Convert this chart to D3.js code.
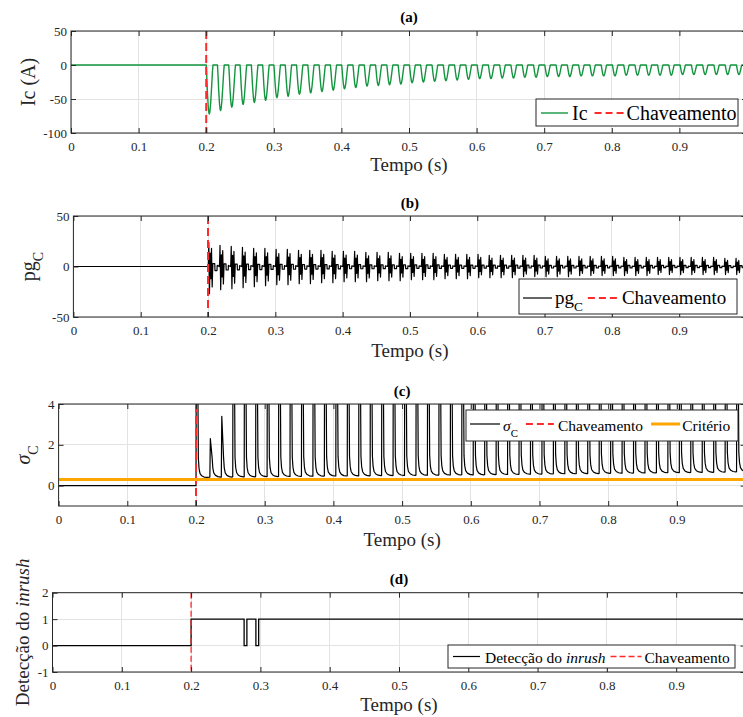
<!DOCTYPE html>
<html>
<head>
<meta charset="utf-8">
<script src="https://cdn.jsdelivr.net/npm/d3@7"></script>
<style>
  body { margin: 0; background: #fff; }
  svg text, svg tspan { font-family: "Liberation Serif", "Times New Roman", serif; }
</style>
</head>
<body>
<svg id="fig" width="743" height="717"></svg>
<script>
// ---------- shared time axis ----------
const xTicks = [0, 0.1, 0.2, 0.3, 0.4, 0.5, 0.6, 0.7, 0.8, 0.9];
const X_MAX = 1;
const T_SWITCH = 0.2;          // switching instant (s)
const PERIOD = 1 / 60;         // one mains cycle (s)
const SERIF = '"Liberation Serif", "Times New Roman", serif';

// ---------- (a) capacitor current Ic ----------
const icYTicks = [50, 0, -50, -100];
// depth of the current pulse in each cycle after switching (A)
const icDepth = [-72, -67, -62, -58, -55, -52, -48, -46, -43, -41,
                 -39, -37, -35, -33, -31, -30, -29, -28, -26, -25,
                 -24, -23, -22, -21, -20, -20, -19, -19, -18, -18,
                 -17, -17, -17, -16, -16, -16, -16, -15, -15, -15,
                 -15, -15, -14, -14, -14, -14, -14, -14];
// pulse width in each cycle, as a fraction of the period
const icWidth = [0.6, 0.6, 0.6, 0.59, 0.59, 0.58, 0.58, 0.57, 0.57, 0.56,
                 0.56, 0.55, 0.55, 0.55, 0.54, 0.54, 0.54, 0.53, 0.53, 0.53,
                 0.52, 0.52, 0.52, 0.52, 0.51, 0.51, 0.51, 0.51, 0.5, 0.5,
                 0.5, 0.5, 0.5, 0.5, 0.49, 0.49, 0.49, 0.49, 0.49, 0.49,
                 0.48, 0.48, 0.48, 0.48, 0.48, 0.48, 0.48, 0.48];
const IC_CENTER = 0.3;         // pulse centre inside the cycle (fraction)
// outline of one pulse: [position within pulse, fraction of depth]
const icPulseShape = [[0, 0], [0.08, 0.22], [0.18, 0.55], [0.3, 0.85], [0.4, 0.98],
                      [0.46, 1], [0.54, 0.96], [0.66, 0.78], [0.8, 0.45], [0.92, 0.15], [1, 0]];

// ---------- (b) pg_C ----------
const pgYTicks = [50, 0, -50];
const pgPos = [24, 21, 20, 19, 18, 18, 17, 17, 16, 16,
               16, 15, 15, 15, 14, 14, 14, 13, 13, 13,
               13, 12, 12, 12, 12, 11, 11, 11, 11, 11,
               10, 10, 10, 10, 10, 10, 10, 9, 9, 9,
               9, 9, 9, 9, 9, 9, 8, 8];
const pgNeg = [-27, -23, -22, -21, -20, -19, -18, -18, -17, -17,
               -16, -16, -15, -15, -15, -14, -14, -14, -13, -13,
               -13, -12, -12, -12, -11, -11, -11, -11, -10, -10,
               -10, -10, -10, -9, -9, -9, -9, -9, -9, -9,
               -8, -8, -8, -8, -8, -8, -8, -8];
// one cycle of pg_C: [phase, +1 = positive peak, -1 = negative peak]
const pgCycleShape = [[0, 0], [0.03, 0.15], [0.07, 1], [0.13, -1], [0.19, 0.55], [0.25, -0.45],
                      [0.31, 0.75], [0.37, -0.75], [0.43, 0.12], [0.6, 0.12], [0.62, -0.15],
                      [0.8, -0.15], [0.82, 0.05], [1, 0]];

// ---------- (c) sigma_C and threshold ----------
const sigmaYTicks = [4, 2, 0];
const sigmaPeak = [15, 2.3, 3.4, 15, 15, 15, 15, 15, 15, 15,
                   15, 15, 15, 15, 15, 15, 15, 15, 15, 15,
                   15, 15, 15, 15, 15, 15, 15, 15, 15, 15,
                   15, 15, 15, 15, 15, 15, 15, 15, 15, 15,
                   15, 15, 15, 15, 15, 15, 15, 15];
const sigmaBase = [0.40, 0.42, 0.42, 0.43, 0.43, 0.44, 0.44, 0.45, 0.45, 0.46,
                   0.46, 0.47, 0.47, 0.48, 0.48, 0.49, 0.49, 0.50, 0.50, 0.51,
                   0.51, 0.52, 0.52, 0.53, 0.53, 0.54, 0.55, 0.55, 0.56, 0.56,
                   0.57, 0.58, 0.58, 0.59, 0.59, 0.60, 0.61, 0.61, 0.62, 0.62,
                   0.63, 0.64, 0.64, 0.65, 0.65, 0.66, 0.67, 0.68];
// decay after each spike: [seconds after peak, value above the baseline]
const sigmaTail = [[0.0026, 0.95], [0.0036, 0.45], [0.005, 0.2], [0.0075, 0.08], [0.011, 0.02], [0.015, 0]];
const SIGMA_FIRST_LAG = 0.0008;
const SIGMA_LAG = 0.0042;
const criterio = 0.3;

// ---------- (d) inrush detection flag ----------
const detYTicks = [2, 1, 0, -1];
const detT = [0, 0.2, 0.2765, 0.2805, 0.2935, 0.2975, 1];
const detV = [0, 1, 0, 1, 0, 1, 1];

// ---------- series assembly ----------
function buildIc() {
  const pts = [[0, 0], [T_SWITCH, 0]];
  icDepth.forEach((depth, k) => {
    const w = icWidth[k] * PERIOD;
    const start = T_SWITCH + k * PERIOD + IC_CENTER * PERIOD - w / 2;
    icPulseShape.forEach(([u, f]) => pts.push([start + u * w, f * depth]));
  });
  pts.push([X_MAX, 0]);
  return pts;
}
function buildPg() {
  const pts = [[0, 0], [T_SWITCH, 0]];
  pgPos.forEach((pos, k) => {
    const t0 = T_SWITCH + k * PERIOD;
    pgCycleShape.forEach(([u, f]) => pts.push([t0 + u * PERIOD, f >= 0 ? f * pos : -f * pgNeg[k]]));
  });
  pts.push([X_MAX, 0]);
  return pts;
}
function buildSigma() {
  const pts = [[0, 0], [T_SWITCH, 0]];
  sigmaPeak.forEach((peak, k) => {
    const tk = T_SWITCH + (k === 0 ? SIGMA_FIRST_LAG : SIGMA_LAG + k * PERIOD);
    if (k > 0) pts.push([tk - 0.0007, sigmaBase[k]]);
    pts.push([tk, peak]);
    sigmaTail.forEach(([dt, v]) => pts.push([tk + dt, sigmaBase[k] + v]));
  });
  pts.push([X_MAX, sigmaBase[sigmaBase.length - 1]]);
  return pts;
}

// ---------- drawing helpers ----------
const svg = d3.select('#fig');
svg.append('rect').attr('width', 743).attr('height', 717).attr('fill', '#fff');
const AXIS_COLOR = '#262626';
const RED = '#ff2a2a';

function makePanel(cfg) {
  const x = d3.scaleLinear().domain([0, X_MAX]).range([cfg.left, cfg.right]);
  const y = d3.scaleLinear().domain(cfg.yDomain).range([cfg.bottom, cfg.top]);
  const g = svg.append('g');
  svg.append('clipPath').attr('id', 'clip-' + cfg.id)
    .append('rect').attr('x', cfg.left).attr('y', cfg.top)
    .attr('width', cfg.right - cfg.left).attr('height', cfg.bottom - cfg.top);
  // grid
  const grid = g.append('g').attr('stroke', '#e3e3e3').attr('stroke-width', 1).attr('shape-rendering', 'crispEdges');
  grid.selectAll('.gx').data(xTicks).join('line')
    .attr('x1', d => x(d)).attr('x2', d => x(d)).attr('y1', cfg.top).attr('y2', cfg.bottom);
  grid.selectAll('.gy').data(cfg.yTicks).join('line')
    .attr('y1', d => y(d)).attr('y2', d => y(d)).attr('x1', cfg.left).attr('x2', cfg.right);
  const plot = g.append('g').attr('clip-path', 'url(#clip-' + cfg.id + ')');
  return { g, plot, x, y, cfg };
}

function drawFrame(p) {
  const { g, x, y, cfg } = p;
  const fmt = d => String(d);
  const styleAxis = sel => {
    sel.select('.domain').remove();
    sel.attr('font-family', SERIF).attr('font-size', 13);
    sel.selectAll('line').attr('stroke', AXIS_COLOR);
    sel.selectAll('text').attr('fill', AXIS_COLOR).style('font-family', SERIF);
  };
  g.append('g').attr('transform', `translate(0,${cfg.bottom})`)
    .call(d3.axisBottom(x).tickValues(xTicks).tickSizeInner(-5).tickSizeOuter(0).tickPadding(9).tickFormat(fmt))
    .call(styleAxis);
  g.append('g').attr('transform', `translate(0,${cfg.top})`)
    .call(d3.axisTop(x).tickValues(xTicks).tickSizeInner(-5).tickSizeOuter(0).tickFormat(''))
    .call(styleAxis);
  g.append('g').attr('transform', `translate(${cfg.left},0)`)
    .call(d3.axisLeft(y).tickValues(cfg.yTicks).tickSizeInner(-5).tickSizeOuter(0).tickPadding(4).tickFormat(fmt))
    .call(styleAxis);
  g.append('g').attr('transform', `translate(${cfg.right},0)`)
    .call(d3.axisRight(y).tickValues(cfg.yTicks).tickSizeInner(-5).tickSizeOuter(0).tickFormat(''))
    .call(styleAxis);
  g.append('rect').attr('x', cfg.left).attr('y', cfg.top)
    .attr('width', cfg.right - cfg.left).attr('height', cfg.bottom - cfg.top)
    .attr('fill', 'none').attr('stroke', AXIS_COLOR).attr('stroke-width', 1);
  // title and x label
  const cx = (cfg.left + cfg.right) / 2;
  g.append('text').attr('x', cx).attr('y', cfg.titleY).attr('text-anchor', 'middle')
    .style('font-family', SERIF)
    .attr('font-weight', 'bold').attr('font-size', 15).attr('fill', '#000').text(cfg.title);
  g.append('text').attr('x', cx).attr('y', cfg.xLabelY).attr('text-anchor', 'middle')
    .style('font-family', SERIF)
    .attr('font-size', 19).attr('fill', AXIS_COLOR).text('Tempo (s)');
  // y label (rotated), built from segments
  const yl = g.append('text')
    .attr('transform', `translate(${cfg.yLabelX},${(cfg.top + cfg.bottom) / 2}) rotate(-90)`)
    .style('font-family', SERIF)
    .attr('text-anchor', 'middle').attr('font-size', cfg.yLabelSize).attr('fill', AXIS_COLOR);
  addSegments(yl, cfg.yLabel, cfg.yLabelSize);
}

function addSegments(textSel, segments, size) {
  let shifted = 0;
  segments.forEach(seg => {
    const ts = textSel.append('tspan').text(seg.t).style('font-family', SERIF);
    if (seg.italic) ts.attr('font-style', 'italic');
    if (seg.sub) {
      ts.attr('font-size', size * 0.7).attr('dy', size * 0.38);
      shifted = size * 0.38;
    } else if (shifted) {
      ts.attr('dy', -shifted);
      shifted = 0;
    }
  });
}

function drawLegend(L) {
  const g = svg.append('g');
  g.append('rect').attr('x', L.x).attr('y', L.y).attr('width', L.w).attr('height', L.h)
    .attr('fill', '#fff').attr('stroke', AXIS_COLOR).attr('stroke-width', 1);
  let cx = L.x + L.padL;
  L.items.forEach(it => {
    g.append('line').attr('x1', cx).attr('x2', cx + it.len).attr('y1', L.lineY).attr('y2', L.lineY)
      .attr('stroke', it.color).attr('stroke-width', it.width)
      .attr('stroke-dasharray', it.dash || null);
    const t = g.append('text').attr('x', cx + it.len + it.g1).attr('y', L.textY)
      .style('font-family', SERIF)
      .attr('font-size', L.fs).attr('fill', '#000');
    addSegments(t, it.label, L.fs);
    cx = cx + it.len + it.g1 + t.node().getComputedTextLength() + L.gap;
  });
}

function switchLine(p, width, dash) {
  p.plot.append('line')
    .attr('x1', p.x(T_SWITCH)).attr('x2', p.x(T_SWITCH))
    .attr('y1', p.cfg.top).attr('y2', p.cfg.bottom)
    .attr('stroke', RED).attr('stroke-width', width).attr('stroke-dasharray', dash);
}

const line = (p) => d3.line().x(d => p.x(d[0])).y(d => p.y(d[1]));

// ---------- (a) ----------
const pa = makePanel({ id: 'a', left: 71, right: 747, top: 31, bottom: 133, yDomain: [-100, 50], yTicks: icYTicks,
  title: '(a)', titleY: 22, xLabelY: 171, yLabelX: 35, yLabelSize: 20, yLabel: [{ t: 'Ic (A)' }] });
pa.plot.append('path').datum(buildIc()).attr('d', line(pa))
  .attr('fill', 'none').attr('stroke', '#13953f').attr('stroke-width', 1.4).attr('stroke-linejoin', 'round');
switchLine(pa, 2, '8,4');
drawFrame(pa);
drawLegend({ x: 536, y: 99, w: 202, h: 27, padL: 5, lineY: 113, textY: 120, fs: 20, gap: 7,
  items: [
    { color: '#13953f', width: 1.4, len: 27, g1: 4, label: [{ t: 'Ic' }] },
    { color: RED, width: 2, dash: '7,4', len: 29, g1: 3, label: [{ t: 'Chaveamento' }] }
  ] });

// ---------- (b) ----------
const pb = makePanel({ id: 'b', left: 73.4, right: 746.5, top: 216, bottom: 317, yDomain: [-50, 50], yTicks: pgYTicks,
  title: '(b)', titleY: 208, xLabelY: 357, yLabelX: 35, yLabelSize: 20, yLabel: [{ t: 'pg' }, { t: 'C', sub: true }] });
pb.plot.append('path').datum(buildPg()).attr('d', line(pb))
  .attr('fill', 'none').attr('stroke', '#000').attr('stroke-width', 1.2).attr('stroke-linejoin', 'round');
switchLine(pb, 2, '8,4');
drawFrame(pb);
drawLegend({ x: 519, y: 279, w: 218, h: 35, padL: 4, lineY: 298, textY: 304, fs: 19, gap: 5,
  items: [
    { color: '#000', width: 1.2, len: 29, g1: 3, label: [{ t: 'pg' }, { t: 'C', sub: true }] },
    { color: RED, width: 2, dash: '7,4', len: 31, g1: 3, label: [{ t: 'Chaveamento' }] }
  ] });

// ---------- (c) ----------
const pc = makePanel({ id: 'c', left: 58.6, right: 745.6, top: 404, bottom: 506, yDomain: [-1, 4], yTicks: sigmaYTicks,
  title: '(c)', titleY: 396, xLabelY: 546, yLabelX: 30, yLabelSize: 20,
  yLabel: [{ t: 'σ', italic: true }, { t: 'C', sub: true }] });
pc.plot.append('path').datum(buildSigma()).attr('d', line(pc))
  .attr('fill', 'none').attr('stroke', '#000').attr('stroke-width', 1.2).attr('stroke-linejoin', 'round');
switchLine(pc, 2, '8,4');
pc.plot.append('path').datum([[0, criterio], [X_MAX, criterio]]).attr('d', line(pc))
  .attr('fill', 'none').attr('stroke', '#ffa500').attr('stroke-width', 3);
drawFrame(pc);
drawLegend({ x: 466, y: 410, w: 272, h: 31, padL: 4, lineY: 424, textY: 431, fs: 15.5, gap: 8,
  items: [
    { color: '#000', width: 1.2, len: 30, g1: 3, label: [{ t: 'σ', italic: true }, { t: 'C', sub: true }] },
    { color: RED, width: 2, dash: '7,4', len: 28, g1: 4, label: [{ t: 'Chaveamento' }] },
    { color: '#ffa500', width: 3, len: 29, g1: 2, label: [{ t: 'Critério' }] }
  ] });

// ---------- (d) ----------
const pd = makePanel({ id: 'd', left: 52.5, right: 745.5, top: 592.7, bottom: 672, yDomain: [-1, 2], yTicks: detYTicks,
  title: '(d)', titleY: 584, xLabelY: 711, yLabelX: 29, yLabelSize: 19,
  yLabel: [{ t: 'Detecção do ' }, { t: 'inrush', italic: true }] });
pd.plot.append('path').datum(detT.map((t, i) => [t, detV[i]]))
  .attr('d', line(pd).curve(d3.curveStepAfter))
  .attr('fill', 'none').attr('stroke', '#000').attr('stroke-width', 1.3);
switchLine(pd, 1.3, '6,3');
drawFrame(pd);
drawLegend({ x: 448, y: 645, w: 287, h: 23, padL: 5, lineY: 656.5, textY: 662.5, fs: 15.5, gap: 5,
  items: [
    { color: '#000', width: 1.2, len: 27, g1: 5, label: [{ t: 'Detecção do ' }, { t: 'inrush', italic: true }] },
    { color: RED, width: 1.3, dash: '6,3', len: 31, g1: 3, label: [{ t: 'Chaveamento' }] }
  ] });
</script>
</body>
</html>
